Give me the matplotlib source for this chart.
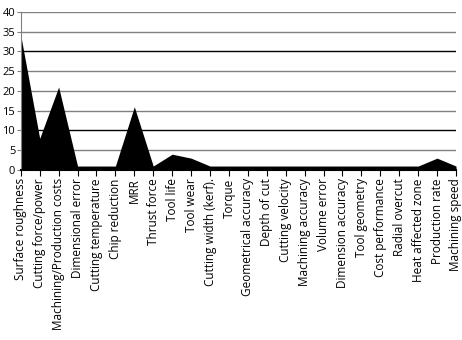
import matplotlib
matplotlib.use("Agg")
import matplotlib.pyplot as plt

categories = ["Surface roughness", "Cutting force/power", "Machining/Production costs",
              "Dimensional error", "Cutting temperature", "Chip reduction", "MRR",
              "Thrust force", "Tool life", "Tool wear", "Cutting width (kerf).", "Torque",
              "Geometrical accuracy", "Depth of cut", "Cutting velocity", "Machining accuracy",
              "Volume error", "Dimension accuracy", "Tool geometry", "Cost performance",
              "Radial overcut", "Heat affected zone", "Production rate", "Machining speed"]
counts = [34, 8, 21, 1, 1, 1, 16, 1, 4, 3, 1, 1,
          1, 1, 1, 1, 1, 1, 1, 1, 1, 1, 3, 1]

plt.rcParams['font.family'] = ['Open Sans', 'DejaVu Sans']

fig = plt.figure(figsize=(4.62, 3.40), dpi=100)
ax = fig.add_axes([0.045, 0.5, 0.942, 0.465])

x = list(range(len(categories)))
ax.fill_between(x, counts, 0, color="black", linewidth=0)

ax.set_xlim(0, len(categories) - 1)
ax.set_ylim(0, 40)
ax.set_yticks(range(0, 41, 5))
for v in range(5, 41, 5):
    c = "black" if v in (10, 30) else "#808080"
    ax.axhline(v, color=c, linewidth=1, zorder=0)

ax.set_xticks(x)
ax.set_xticklabels(categories, rotation=90, fontsize=8.5)
ax.tick_params(axis="y", labelsize=8, length=3, pad=1, color="#808080")
ax.tick_params(axis="x", length=4, pad=2)

for s in ["top", "right"]:
    ax.spines[s].set_visible(False)
ax.spines["left"].set_color("#808080")
ax.spines["bottom"].set_linewidth(1.5)

fig.savefig("out.png", dpi=100)
